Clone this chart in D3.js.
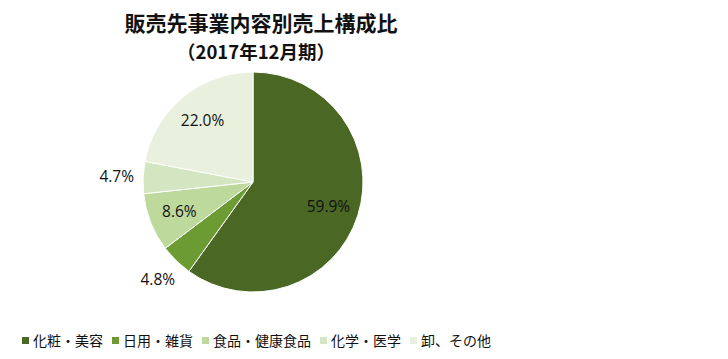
<!DOCTYPE html>
<html><head><meta charset="utf-8">
<script src="https://cdn.jsdelivr.net/npm/d3@7"></script>
<style>
body{margin:0;background:#fff;}
svg{display:block;}
</style></head>
<body>
<script>
const categories = ["化粧・美容","日用・雑貨","食品・健康食品","化学・医学","卸、その他"];
const values = [59.9, 4.8, 8.6, 4.7, 22.0];
const labels = ["59.9%","4.8%","8.6%","4.7%","22.0%"];
const colors = ["#4a6824","#6c9a33","#bdd99b","#d4e6c1","#e9f1de"];
const titleLines = ["販売先事業内容別売上構成比","（2017年12月期）"];

const W=728,H=359;
const svg=d3.select("body").append("svg").attr("width",W).attr("height",H);
const cx=253, cy=182, r=110;
const jp="'Noto Sans CJK JP','Noto Sans',sans-serif";

svg.append("text").attr("x",261).attr("y",31).attr("text-anchor","middle")
  .attr("font-family",jp).attr("font-weight","bold").attr("font-size",21).attr("fill","#111")
  .text(titleLines[0]);
svg.append("text").attr("x",256).attr("y",59).attr("text-anchor","middle")
  .attr("font-family",jp).attr("font-weight","bold").attr("font-size",18.5).attr("fill","#111")
  .text(titleLines[1]);

const pie=d3.pie().sort(null).value(d=>d)(values);
const arc=d3.arc().innerRadius(0).outerRadius(r);
const g=svg.append("g").attr("transform",`translate(${cx},${cy})`);
g.selectAll("path").data(pie).join("path").attr("d",arc)
  .attr("fill",(d,i)=>colors[i]).attr("stroke","#fff").attr("stroke-width",1);

const inArc=d3.arc().innerRadius(r*0.72).outerRadius(r*0.72);
const outArc=d3.arc().innerRadius(r*1.24).outerRadius(r*1.24);
g.selectAll("text.lbl").data(pie).join("text").attr("class","lbl")
  .attr("transform",d=>{const c=(d.data<6?outArc:inArc).centroid(d);return `translate(${c[0]},${c[1]})`;})
  .attr("text-anchor","middle").attr("dy","0.35em")
  .attr("font-family","'Open Sans','Noto Sans',sans-serif").attr("font-size",15.5).attr("fill","#111")
  .text((d,i)=>labels[i]);

// legend
const lg=svg.append("g").attr("font-family",jp).attr("font-size",14).attr("fill","#111");
let x=22;
categories.forEach((c,i)=>{
  lg.append("rect").attr("x",x).attr("y",337).attr("width",7).attr("height",7).attr("fill",colors[i]);
  const t=lg.append("text").attr("x",x+11).attr("y",346).text(c);
  const w=t.node().getComputedTextLength();
  x+=11+w+9;
});
</script>
</body></html>
